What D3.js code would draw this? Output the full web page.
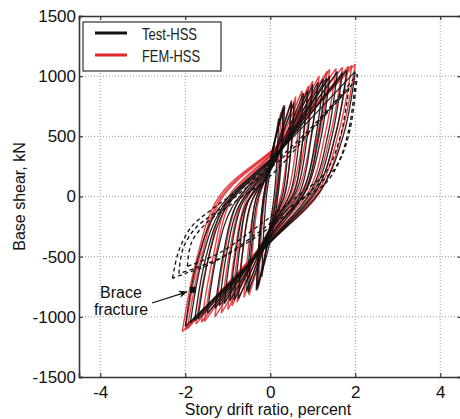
<!DOCTYPE html>
<html>
<head>
<meta charset="utf-8">
<script src="https://cdn.jsdelivr.net/npm/d3@7"></script>
<style>
  body { margin: 0; background: #fff; }
  text { font-family: "Liberation Sans", Arial, sans-serif; fill: #111; }
</style>
</head>
<body>
<div id="chart"></div>
<script>
var width = 460,
    height = 419;

var xTicks = [-4, -2, 0, 2, 4];
var yTicks = [-1500, -1000, -500, 0, 500, 1000, 1500];
var xGrid = [-4, -2, 0, 2, 4];
var yGrid = [-1000, -500, 0, 500, 1000];

// FEM-HSS loops (drift %, base shear kN), each from positive peak round again
var femLoops = [
  [[0.25,700],[0.2,350],[0.12,0],[-0.06,-360],[-0.27,-740],[-0.22,-370],[-0.13,-10],[0.05,350]],
  [[0.32,760],[0.26,390],[0.16,10],[-0.06,-390],[-0.32,-780],[-0.26,-390],[-0.16,-10],[0.06,390]],
  [[0.5,800],[0.41,400],[0.26,20],[-0.04,-300],[-0.5,-820],[-0.41,-410],[-0.27,-20],[0.04,300]],
  [[0.6,830],[0.5,420],[0.33,20],[0,-260],[-0.62,-840],[-0.51,-420],[-0.34,-30],[0,250]],
  [[0.75,880],[0.62,440],[0.42,40],[-0.02,-280],[-0.78,-880],[-0.65,-450],[-0.44,-50],[0.02,280]],
  [[0.9,920],[0.76,460],[0.5,40],[0,-260],[-0.9,-910],[-0.76,-460],[-0.52,-40],[0.04,270]],
  [[1.0,960],[0.83,480],[0.56,50],[-0.04,-300],[-1.0,-940],[-0.84,-480],[-0.58,-40],[0.02,300]],
  [[1.15,1000],[0.96,500],[0.66,50],[-0.05,-320],[-1.15,-970],[-0.97,-490],[-0.67,-40],[0.05,320]],
  [[1.34,1042],[1.12,520],[0.76,50],[-0.08,-340],[-1.3,-1000],[-1.09,-500],[-0.76,-40],[0.08,350]],
  [[1.4,1058],[1.17,530],[0.8,40],[-0.12,-360],[-1.55,-1040],[-1.3,-520],[-0.92,-30],[0.06,360]],
  [[1.55,1065],[1.3,535],[0.9,40],[-0.14,-380],[-1.62,-1045],[-1.36,-525],[-0.96,-20],[0.1,380]],
  [[1.7,1075],[1.43,540],[0.98,40],[-0.16,-400],[-1.75,-1060],[-1.47,-530],[-1.02,-20],[0.14,400]],
  [[1.84,1083],[1.55,540],[1.08,40],[-0.2,-420],[-1.95,-1100],[-1.65,-550],[-1.13,-10],[0.18,420]],
  [[1.92,1090],[1.62,545],[1.12,40],[-0.22,-430],[-2.0,-1110],[-1.7,-555],[-1.16,-5],[0.2,430]],
  [[2.0,1100],[1.7,550],[1.18,40],[-0.25,-450],[-2.07,-1125],[-1.76,-560],[-1.2,0],[0.22,440]]
];

// Test-HSS loops before brace fracture
var testLoops = [
  [[0.2,650],[0.16,320],[0.09,0],[-0.05,-330],[-0.2,-670],[-0.16,-330],[-0.09,0],[0.05,330]],
  [[0.3,740],[0.25,380],[0.15,20],[-0.05,-380],[-0.3,-770],[-0.25,-390],[-0.15,-20],[0.05,370]],
  [[0.34,755],[0.28,390],[0.18,0],[-0.02,-400],[-0.33,-780],[-0.27,-400],[-0.17,-30],[0.03,360]],
  [[0.5,790],[0.42,400],[0.3,30],[0.02,-260],[-0.52,-800],[-0.44,-420],[-0.31,-40],[-0.02,230]],
  [[0.56,780],[0.48,380],[0.34,10],[0.05,-220],[-0.56,-790],[-0.47,-400],[-0.34,-20],[-0.05,200]],
  [[0.78,860],[0.67,440],[0.48,40],[0.05,-250],[-0.75,-850],[-0.64,-440],[-0.46,-60],[0,220]],
  [[0.88,880],[0.76,450],[0.56,30],[0.1,-200],[-0.85,-860],[-0.72,-440],[-0.53,-50],[-0.05,180]],
  [[1.0,930],[0.86,470],[0.62,50],[0.08,-240],[-0.95,-870],[-0.8,-440],[-0.58,-70],[0.02,240]],
  [[1.12,950],[0.96,480],[0.7,40],[0.12,-230],[-1.08,-890],[-0.92,-450],[-0.66,-60],[0.04,260]],
  [[1.25,975],[1.07,490],[0.78,50],[0.1,-280],[-1.2,-910],[-1.02,-460],[-0.74,-80],[0.08,290]],
  [[1.32,985],[1.13,495],[0.82,40],[0.14,-260],[-1.3,-930],[-1.1,-470],[-0.8,-70],[0.1,300]],
  [[1.4,1000],[1.2,500],[0.86,60],[0.06,-320],[-1.48,-970],[-1.26,-490],[-0.9,-90],[0.12,330]],
  [[1.58,1040],[1.36,520],[0.98,60],[0.04,-350],[-1.7,-1020],[-1.45,-510],[-1.05,-100],[0.15,350]],
  [[1.7,1030],[1.46,515],[1.04,50],[0.08,-340],[-1.78,-1030],[-1.52,-515],[-1.1,-100],[0.18,360]],
  [[1.8,1050],[1.55,530],[1.1,60],[0,-380],[-1.88,-1050],[-1.6,-520],[-1.16,-110],[0.2,380]],
  [[2.0,1040],[1.73,520],[1.2,60],[-0.05,-400],[-2.0,-1080],[-1.72,-540],[-1.25,-120],[0.25,390]]
];

// Test-HSS loops after brace fracture (dashed)
var testDashed = [
  [[2.05,1017],[1.88,560],[1.65,310],[1.3,110],[0.7,-30],[-0.4,-330],[-1.4,-560],[-2.0,-640],[-2.3,-680],
   [-2.15,-450],[-1.85,-250],[-1.35,-100],[-0.6,90],[0.4,380],[1.3,700]],
  [[2.0,960],[1.85,560],[1.55,250],[1.0,60],[0.2,-200],[-1.0,-480],[-1.8,-600],[-2.15,-640],
   [-2.05,-430],[-1.75,-260],[-1.2,-110],[-0.4,120],[0.6,420],[1.4,730]],
  [[1.85,900],[1.65,500],[1.3,200],[0.7,20],[-0.3,-250],[-1.2,-470],[-1.95,-580],
   [-1.85,-380],[-1.5,-220],[-0.9,-60],[0,170],[1.0,560]]
];

var fracturePoint = [-1.82, -775];
var arrowFrom = [-2.78, -885];
var legendItems = [["Test-HSS", "#111"], ["FEM-HSS", "#e0262b"]];

var x = d3.scaleLinear().domain([-4.5, 4.5]).range([79, 461.5]);
var y = d3.scaleLinear().domain([-1500, 1500]).range([377, 16]);

var svg = d3.select("#chart").append("svg")
    .attr("width", width)
    .attr("height", height);

svg.append("defs").append("marker")
    .attr("id", "arrow")
    .attr("viewBox", "0 0 10 10")
    .attr("refX", 9).attr("refY", 5)
    .attr("markerWidth", 7).attr("markerHeight", 7)
    .attr("orient", "auto")
  .append("path")
    .attr("d", "M0,1 L10,5 L0,9 L3,5 Z")
    .style("fill", "#111");

// grid
svg.selectAll(".gx").data(xGrid).enter().append("line")
    .attr("x1", d => x(d)).attr("x2", d => x(d))
    .attr("y1", y(1500)).attr("y2", y(-1500))
    .style("stroke", "#999").style("stroke-width", 1).style("stroke-dasharray", "1,2");
svg.selectAll(".gy").data(yGrid).enter().append("line")
    .attr("x1", x(-4.5)).attr("x2", x(4.5))
    .attr("y1", d => y(d)).attr("y2", d => y(d))
    .style("stroke", "#999").style("stroke-width", 1).style("stroke-dasharray", "1,2");

var branchLine = d3.line()
    .x(d => x(d[0]))
    .y(d => y(d[1]))
    .curve(d3.curveCatmullRom.alpha(0.5));

// split a loop at its negative peak so both tips stay sharp
function loopPath(loop) {
  var k = d3.minIndex(loop, d => d[1]);
  var down = loop.slice(0, k + 1),
      up = loop.slice(k).concat([loop[0]]);
  return branchLine(down) + branchLine(up);
}

svg.selectAll(".fem").data(femLoops).enter().append("path")
    .attr("d", loopPath)
    .style("fill", "none").style("stroke", "#e0262b")
    .style("stroke-width", 1.4).style("opacity", 0.85);

svg.selectAll(".test").data(testLoops).enter().append("path")
    .attr("d", loopPath)
    .style("fill", "none").style("stroke", "#111")
    .style("stroke-width", 1.3).style("opacity", 0.9);

svg.selectAll(".testd").data(testDashed).enter().append("path")
    .attr("d", loopPath)
    .style("fill", "none").style("stroke", "#111")
    .style("stroke-width", 1.3).style("stroke-dasharray", "4,3");

// axes (box with inward ticks)
var fmt = d => String(d);
var axLeft = svg.append("g").attr("transform", "translate(" + x(-4.5) + ",0)")
    .call(d3.axisLeft(y).tickValues(yTicks).tickSize(-4).tickPadding(6).tickFormat(fmt));
var axRight = svg.append("g").attr("transform", "translate(" + x(4.5) + ",0)")
    .call(d3.axisRight(y).tickValues(yTicks).tickSize(-4).tickFormat(""));
var axBottom = svg.append("g").attr("transform", "translate(0," + y(-1500) + ")")
    .call(d3.axisBottom(x).tickValues(xTicks).tickSize(-4).tickPadding(9).tickFormat(fmt));
var axTop = svg.append("g").attr("transform", "translate(0," + y(1500) + ")")
    .call(d3.axisTop(x).tickValues(xTicks).tickSize(-4).tickFormat(""));

[axLeft, axRight, axBottom, axTop].forEach(function(g) {
  g.select(".domain").style("stroke", "#333").style("stroke-width", 1.6);
  g.selectAll(".tick line").style("stroke", "#333").style("stroke-width", 1.2);
  g.selectAll(".tick text")
    .style("font-family", "'Liberation Sans', Arial, sans-serif")
    .style("font-size", "17px").style("fill", "#111");
});
axLeft.selectAll(".tick text").attr("x", -3);

// axis titles
svg.append("text")
    .attr("x", 268).attr("y", 415)
    .attr("text-anchor", "middle")
    .style("font-size", "16px")
    .text("Story drift ratio, percent");
svg.append("text")
    .attr("transform", "translate(25," + y(0) + ") rotate(-90)")
    .attr("text-anchor", "middle")
    .style("font-size", "16px")
    .text("Base shear, kN");

// legend
var legend = svg.append("g");
legend.append("rect")
    .attr("x", 83).attr("y", 22).attr("width", 138).attr("height", 49)
    .style("fill", "#fff").style("stroke", "#333").style("stroke-width", 1.2);
legend.selectAll(".li").data(legendItems).enter().append("line")
    .attr("x1", 95).attr("x2", 127)
    .attr("y1", (d, i) => 33 + i * 22).attr("y2", (d, i) => 33 + i * 22)
    .style("stroke", d => d[1]).style("stroke-width", 3);
legend.selectAll(".lt").data(legendItems).enter().append("text")
    .attr("x", 142).attr("y", (d, i) => 40 + i * 22)
    .attr("textLength", (d, i) => i ? 58 : 55)
    .attr("lengthAdjust", "spacingAndGlyphs")
    .style("font-size", "17px")
    .style("fill", "#222")
    .text(d => d[0]);

// brace fracture annotation
svg.append("line")
    .attr("x1", x(arrowFrom[0])).attr("y1", y(arrowFrom[1]))
    .attr("x2", x(fracturePoint[0]) - 6).attr("y2", y(fracturePoint[1]) + 2)
    .style("stroke", "#111").style("stroke-width", 1.3)
    .attr("marker-end", "url(#arrow)");
svg.append("rect")
    .attr("x", x(fracturePoint[0]) - 3).attr("y", y(fracturePoint[1]) - 3)
    .attr("width", 6).attr("height", 6)
    .style("fill", "#111");
svg.append("text")
    .attr("x", 121).attr("y", 298)
    .attr("text-anchor", "middle")
    .style("font-size", "16px")
    .text("Brace");
svg.append("text")
    .attr("x", 121).attr("y", 315)
    .attr("text-anchor", "middle")
    .style("font-size", "16px")
    .text("fracture");
</script>
</body>
</html>
